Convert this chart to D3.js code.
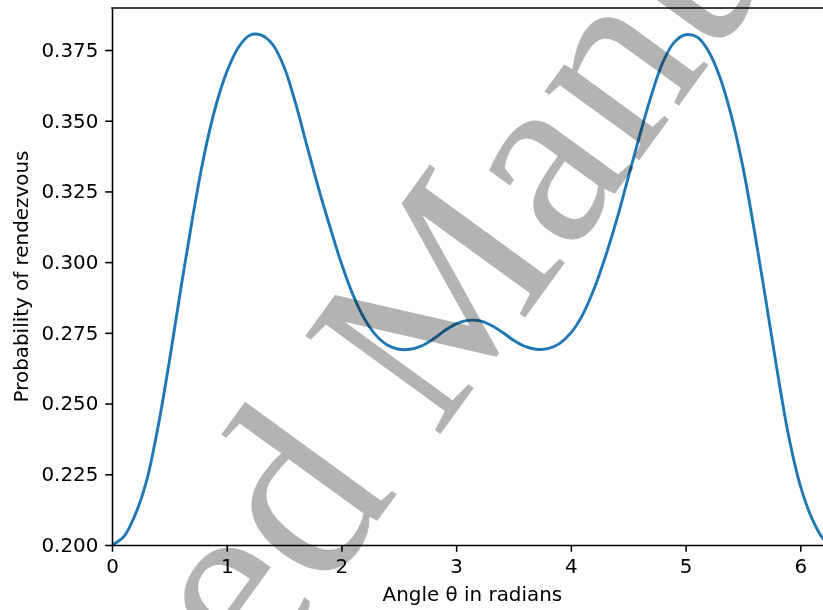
<!DOCTYPE html>
<html>
<head>
<meta charset="utf-8">
<script src="https://cdn.jsdelivr.net/npm/d3@7"></script>
<style>
  body { margin: 0; background: #fff; }
  svg { display: block; }
  .tick text { font-family: "DejaVu Sans", sans-serif; }
</style>
</head>
<body>
<svg id="chart" width="823" height="610"></svg>
<script>
// 1: DATA
const thetaValues = [0.0, 0.1, 0.2, 0.3, 0.4, 0.5, 0.6, 0.7, 0.8, 0.9,
    1.0, 1.1, 1.2, 1.3, 1.4, 1.5, 1.6, 1.7, 1.8, 1.9,
    2.0, 2.1, 2.2, 2.3, 2.4, 2.5, 2.6, 2.7, 2.8, 2.9,
    3.0, 3.1, 3.2, 3.3, 3.4, 3.5, 3.6, 3.7, 3.8, 3.9,
    4.0, 4.1, 4.2, 4.3, 4.4, 4.5, 4.6, 4.7, 4.8, 4.9,
    5.0, 5.1, 5.2, 5.3, 5.4, 5.5, 5.6, 5.7, 5.8, 5.9,
    6.0, 6.1, 6.2, 6.283];
const probValues = [0.2000, 0.2028, 0.2105, 0.2225, 0.2415, 0.2650, 0.2906, 0.3152, 0.3372, 0.3545,
    0.3672, 0.3758, 0.3802, 0.3803, 0.3770, 0.3690, 0.3562, 0.3410, 0.3262, 0.3125,
    0.2995, 0.2885, 0.2800, 0.2742, 0.2707, 0.2692, 0.2692, 0.2704, 0.2728, 0.2758,
    0.2782, 0.2794, 0.2793, 0.2778, 0.2753, 0.2724, 0.2702, 0.2692, 0.2694, 0.2712,
    0.2750, 0.2812, 0.2903, 0.3018, 0.3150, 0.3300, 0.3448, 0.3588, 0.3705, 0.3777,
    0.3804, 0.3796, 0.3746, 0.3653, 0.3515, 0.3335, 0.3110, 0.2864, 0.2612, 0.2382,
    0.2210, 0.2095, 0.2022, 0.2000];
const xTicks = [0, 1, 2, 3, 4, 5, 6];
const yTicks = [0.200, 0.225, 0.250, 0.275, 0.300, 0.325, 0.350, 0.375];

const data = thetaValues.map((t, i) => ({ theta: t, p: probValues[i] }));

// 2: LAYOUT
const plotLeft = 112, plotTop = 8, plotBottom = 545;
const plotRight = plotLeft + 2 * Math.PI * 114.72;
const fontSize = 19.9;
const tickLen = 6.8;

const svg = d3.select("#chart");

// 3: SCALES
const xScale = d3.scaleLinear().domain([0, 2 * Math.PI]).range([plotLeft, plotRight]);
const yScale = d3.scaleLinear().domain([0.2, 0.38985]).range([plotBottom, plotTop]);

// 4: LINE
svg.append("defs").append("clipPath").attr("id", "plotClip")
    .append("rect")
    .attr("x", plotLeft).attr("y", plotTop)
    .attr("width", plotRight - plotLeft).attr("height", plotBottom - plotTop);

const line = d3.line()
    .x(d => xScale(d.theta))
    .y(d => yScale(d.p))
    .curve(d3.curveCatmullRom);

svg.append("path")
    .datum(data)
    .attr("clip-path", "url(#plotClip)")
    .attr("fill", "none")
    .attr("stroke", "#1f77b4")
    .attr("stroke-width", 2.9)
    .attr("stroke-linejoin", "round")
    .attr("d", line);

// 5: AXES
const xAxis = svg.append("g")
    .attr("transform", `translate(0,${plotBottom})`)
    .call(d3.axisBottom(xScale).tickValues(xTicks).tickFormat(d3.format("d"))
        .tickSize(tickLen).tickSizeOuter(0).tickPadding(6.8));

const yAxis = svg.append("g")
    .attr("transform", `translate(${plotLeft},0)`)
    .call(d3.axisLeft(yScale).tickValues(yTicks).tickFormat(d3.format(".3f"))
        .tickSize(tickLen).tickSizeOuter(0).tickPadding(6.8));

[xAxis, yAxis].forEach(ax => {
    ax.select(".domain").attr("stroke", "#000").attr("stroke-width", 1.56);
    ax.selectAll(".tick line").attr("stroke", "#000").attr("stroke-width", 1.56);
    ax.selectAll(".tick text").attr("fill", "#000").style("font-size", fontSize + "px");
});

// top and right spines
svg.append("line")
    .attr("x1", plotLeft).attr("x2", plotRight).attr("y1", plotTop).attr("y2", plotTop)
    .attr("stroke", "#000").attr("stroke-width", 1.56).attr("stroke-linecap", "square");
svg.append("line")
    .attr("x1", plotRight).attr("x2", plotRight).attr("y1", plotTop).attr("y2", plotBottom)
    .attr("stroke", "#000").attr("stroke-width", 1.56);

// 6: LABELS
svg.append("text")
    .attr("x", (plotLeft + plotRight) / 2)
    .attr("y", 601)
    .attr("text-anchor", "middle")
    .style("font-family", "DejaVu Sans, sans-serif")
    .style("font-size", fontSize + "px")
    .text("Angle θ in radians");

svg.append("text")
    .attr("transform", "rotate(-90)")
    .attr("x", -(plotTop + plotBottom) / 2)
    .attr("y", 27.5)
    .attr("text-anchor", "middle")
    .style("font-family", "DejaVu Sans, sans-serif")
    .style("font-size", fontSize + "px")
    .text("Probability of rendezvous");

// 7: WATERMARK
const wm = svg.append("g")
    .attr("transform", "translate(436,440) rotate(-54)")
    .style("mix-blend-mode", "multiply");

const wmText = wm.append("text")
    .attr("y", 0)
    .style("font-family", "Liberation Serif, Times New Roman, serif")
    .style("font-size", "255px")
    .attr("fill", "#b3b3b3")
    .text("Accepted Manuscript");

// shift so that the "M" starts at the anchor point
const lead = wmText.node().getSubStringLength(0, 9);
wmText.attr("x", -lead);
</script>
</body>
</html>
